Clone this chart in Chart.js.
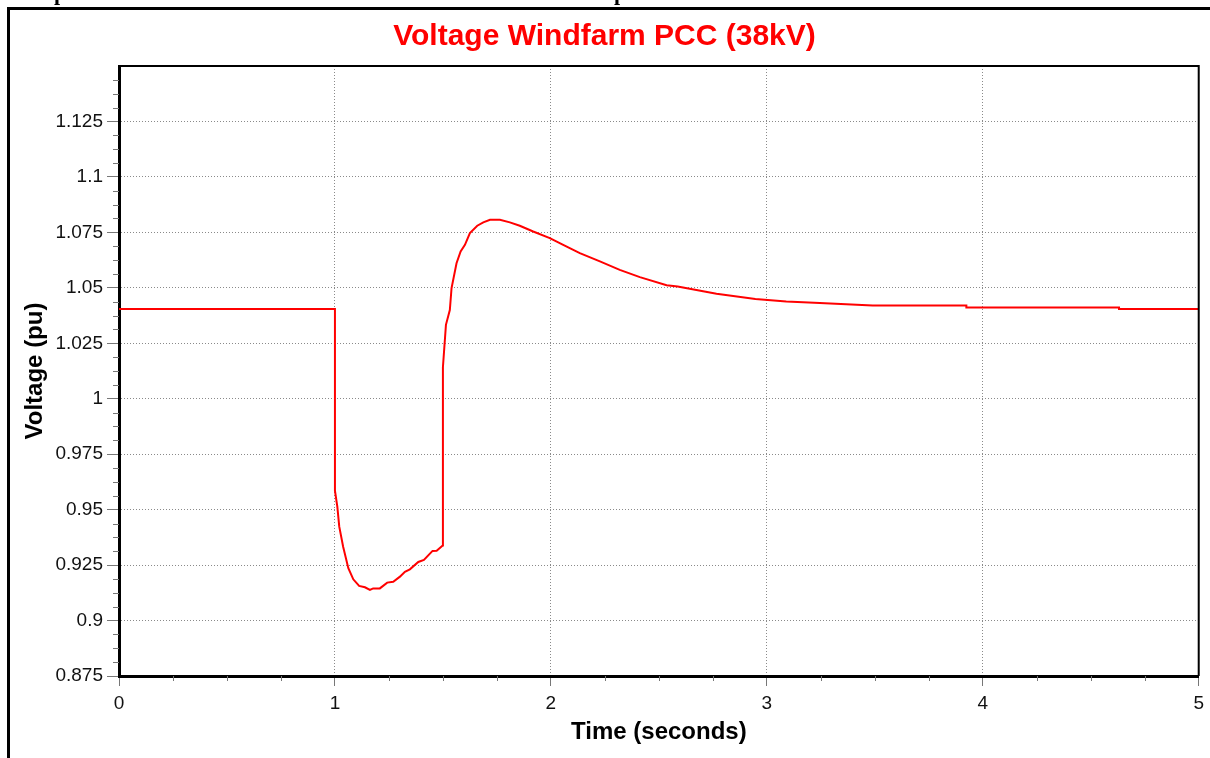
<!DOCTYPE html>
<html>
<head>
<meta charset="utf-8">
<title>Voltage Windfarm PCC (38kV)</title>
<script src="https://cdn.jsdelivr.net/npm/chart.js@4.4.0/dist/chart.umd.min.js"></script>
<style>
    html, body { margin: 0; padding: 0; background: #fff; }
</style>
</head>
<body>
<canvas id="voltageChart" width="1210" height="758"></canvas>
<script>
// Time (seconds) and PCC voltage (pu)
const timeData = [
    0, 1.0, 1.0, 1.011, 1.020, 1.038, 1.062, 1.085, 1.112, 1.139,
    1.162, 1.177, 1.208, 1.242, 1.270, 1.301, 1.324, 1.347, 1.386, 1.412,
    1.452, 1.471, 1.499, 1.500, 1.514, 1.532, 1.540, 1.563, 1.582, 1.602,
    1.625, 1.659, 1.687, 1.718, 1.764, 1.810, 1.856, 1.918, 1.995, 2.057,
    2.134, 2.227, 2.319, 2.412, 2.536, 2.587, 2.767, 2.947, 3.09, 3.245,
    3.49, 3.924, 3.924, 4.631, 4.631, 5.0
];
const voltageData = [
    1.0405, 1.0405, 0.9586, 0.9514, 0.9423, 0.9333, 0.9236, 0.9186, 0.9156, 0.9150,
    0.9138, 0.9145, 0.9145, 0.9171, 0.9175, 0.9198, 0.9220, 0.9231, 0.9264, 0.9273,
    0.9314, 0.9315, 0.9338, 1.0142, 1.0333, 1.0400, 1.0499, 1.0611, 1.0664, 1.0694,
    1.0747, 1.0780, 1.0795, 1.0807, 1.0807, 1.0795, 1.0780, 1.0754, 1.0724, 1.0694,
    1.0656, 1.0619, 1.0581, 1.0548, 1.0512, 1.0506, 1.0473, 1.0450, 1.0438, 1.0431,
    1.0420, 1.0420, 1.0411, 1.0411, 1.0405, 1.0405
];

// Axis ranges and tick steps
const xMin = 0, xMax = 5, xStep = 1, xMinorStep = 0.25;
const yMin = 0.875, yMax = 1.15, yStep = 0.025, yMinorStep = 0.00625;

const FONT = "'Liberation Sans', Arial, Helvetica, sans-serif";
Chart.defaults.font.family = FONT;
Chart.defaults.color = '#111';

// Page frame, cut-off caption above, minor ticks and the thin top/right border
const framePlugin = {
    id: 'frame',
    beforeDraw(chart) {
        const ctx = chart.ctx;
        ctx.save();
        ctx.fillStyle = '#fff';
        ctx.fillRect(0, 0, chart.width, chart.height);
        ctx.strokeStyle = '#000';
        ctx.lineWidth = 3;
        ctx.beginPath();
        ctx.moveTo(8.5, chart.height);
        ctx.lineTo(8.5, 8.5);
        ctx.lineTo(chart.width, 8.5);
        ctx.stroke();
        // bottom of the caption line that is cut off by the top edge
        ctx.fillStyle = '#000';
        ctx.font = "bold 22px 'Liberation Serif', 'Times New Roman', serif";
        ctx.textBaseline = 'alphabetic';
        ctx.fillText('p', 54, 0);
        ctx.fillText('p', 614, 0);
        ctx.restore();
    },
    afterDraw(chart) {
        const ctx = chart.ctx;
        const area = chart.chartArea;
        const xs = chart.scales.x;
        const ys = chart.scales.y;
        ctx.save();
        ctx.strokeStyle = '#777';
        ctx.lineWidth = 1;
        ctx.beginPath();
        const nY = Math.round((yMax - yMin) / yMinorStep);
        for (let i = 0; i <= nY; i++) {
            if (i % 4 === 0) continue;
            const py = Math.round(ys.getPixelForValue(yMin + i * yMinorStep)) + 0.5;
            ctx.moveTo(area.left - 6, py);
            ctx.lineTo(area.left, py);
        }
        const nX = Math.round((xMax - xMin) / xMinorStep);
        for (let i = 0; i <= nX; i++) {
            if (i % 4 === 0) continue;
            const px = Math.round(xs.getPixelForValue(xMin + i * xMinorStep)) + 0.5;
            ctx.moveTo(px, area.bottom);
            ctx.lineTo(px, area.bottom + 5);
        }
        ctx.stroke();
        // thin border on top and right of the plot
        ctx.strokeStyle = '#000';
        ctx.lineWidth = 2;
        ctx.beginPath();
        ctx.moveTo(area.left, area.top);
        ctx.lineTo(area.right, area.top);
        ctx.lineTo(area.right, area.bottom);
        ctx.stroke();
        ctx.restore();
    }
};

function createChart() {
    const ctx = document.getElementById('voltageChart').getContext('2d');
    const points = timeData.map((t, i) => ({ x: t, y: voltageData[i] }));

    window.voltageChart = new Chart(ctx, {
        type: 'line',
        data: {
            datasets: [{
                label: 'Voltage',
                data: points,
                borderColor: '#ff0000',
                borderWidth: 2,
                pointRadius: 0,
                tension: 0,
                fill: false
            }]
        },
        options: {
            responsive: false,
            animation: false,
            layout: {
                padding: { left: 10, right: 11, top: 0, bottom: 0 }
            },
            plugins: {
                legend: { display: false },
                tooltip: { enabled: false },
                title: {
                    display: true,
                    text: 'Voltage Windfarm PCC (38kV)',
                    color: '#ff0000',
                    font: { size: 30, weight: 'bold', family: FONT },
                    padding: { top: 19, bottom: 11 }
                }
            },
            scales: {
                x: {
                    type: 'linear',
                    min: xMin,
                    max: xMax,
                    ticks: {
                        stepSize: xStep,
                        font: { size: 19 },
                        color: '#111',
                        padding: 6,
                        maxRotation: 0
                    },
                    grid: {
                        color: '#8a8a8a',
                        lineWidth: 1,
                        tickColor: '#777',
                        tickLength: 10,
                        tickBorderDash: []
                    },
                    border: { display: true, color: '#000', width: 3, dash: [1, 2] },
                    title: {
                        display: true,
                        text: 'Time (seconds)',
                        color: '#000',
                        font: { size: 24, weight: 'bold' },
                        padding: { top: 0, bottom: 11 }
                    },
                    afterFit(scale) {
                        scale.height = 82;
                    }
                },
                y: {
                    type: 'linear',
                    min: yMin,
                    max: yMax,
                    ticks: {
                        stepSize: yStep,
                        font: { size: 19 },
                        color: '#111',
                        padding: 4,
                        callback: function(value) {
                            if (value > yMax - 0.001) return '';
                            return String(Number(value.toFixed(3)));
                        }
                    },
                    grid: {
                        color: '#8a8a8a',
                        lineWidth: 1,
                        tickColor: function(c) {
                            return c.tick && c.tick.value > yMax - 0.001 ? 'rgba(0,0,0,0)' : '#777';
                        },
                        tickLength: 12,
                        tickBorderDash: []
                    },
                    border: { display: true, color: '#000', width: 3, dash: [1, 2] },
                    title: {
                        display: true,
                        text: 'Voltage (pu)',
                        color: '#000',
                        font: { size: 24, weight: 'bold' },
                        padding: { top: 11, bottom: 0 }
                    },
                    afterFit(scale) {
                        scale.width = 109;
                    }
                }
            }
        },
        plugins: [framePlugin]
    });
}

document.addEventListener('DOMContentLoaded', () => {
    createChart();
});
</script>
</body>
</html>
